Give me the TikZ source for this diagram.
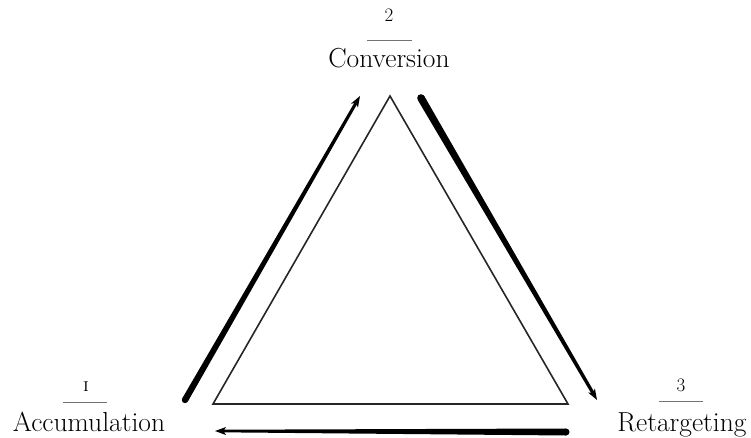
\documentclass[tikz,border=0pt]{standalone}
\usetikzlibrary{calc}
\newcommand\taperarrow[4]{%
  \coordinate (te) at ($(#2)!7pt!(#1)$);
  \coordinate (tb) at ($(#2)!11pt!(#1)$);
  \fill ($(#1)!#3!90:(#2)$) -- ($(te)!#4!90:(#2)$) -- ($(te)!#4!-90:(#2)$) -- ($(#1)!#3!-90:(#2)$) -- cycle;
  \fill (#1) circle[radius=#3];
  \fill (#2) -- ($(tb)!4pt!90:(#2)$) -- ($(#2)!8.5pt!(#1)$) -- ($(tb)!4pt!-90:(#2)$) -- cycle;
}
\tikzset{
  lbl/.style={font=\fontsize{27.5}{32}\selectfont, inner sep=0pt, anchor=base},
  num/.style={font=\fontsize{19}{22}\selectfont, inner sep=0pt, anchor=base},
  rule/.style={draw=black!55, line width=0.6pt},
  tri/.style={draw=black!85, line width=1.6pt, line join=miter}
}
\begin{document}
\begin{tikzpicture}[x=1pt,y=-1pt]
\useasboundingbox (0,0) rectangle (751,438);
% triangle
\coordinate (T) at (390,96);
\coordinate (BL) at (213,404);
\coordinate (BR) at (568,404);
\draw[tri] (T) -- (BL) -- (BR) -- cycle;
% arrows
\coordinate (a1) at (185,400);
\coordinate (a2) at (360,96);
\coordinate (b1) at (421,98);
\coordinate (b2) at (597,400);
\coordinate (c1) at (566,432);
\coordinate (c2) at (215,431);
\taperarrow{a1}{a2}{3.2pt}{1.5pt}
\taperarrow{b1}{b2}{3.8pt}{1.6pt}
\taperarrow{c1}{c2}{3.5pt}{1.3pt}
% labels
\node[num] (n2) at (389,22) {2};
\draw[rule] (367,40) -- (412,40);
\node[lbl] (l2) at (389,68) {Conversion};
\node[num] (n1) at (86,391) {\textsc{i}};
\draw[rule] (63,402) -- (107,402);
\node[lbl] (l1) at (89,431) {Accumulation};
\node[num] (n3) at (681,391) {3};
\draw[rule] (659,401) -- (703,401);
\node[lbl] (l3) at (682,431) {Retargeting};
\end{tikzpicture}
\end{document}
